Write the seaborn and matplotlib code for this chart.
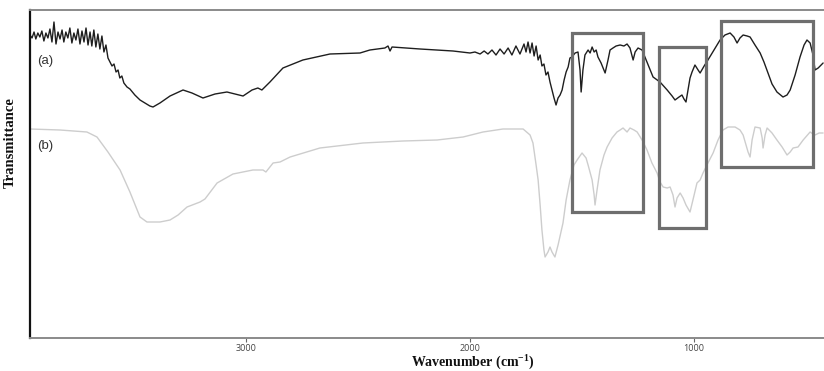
import matplotlib
matplotlib.use("Agg")
import matplotlib.pyplot as plt
import matplotlib.patches as mpatches
import seaborn as sns
import pandas as pd

# ---- data (wavenumber cm^-1, transmittance in arbitrary units) ----
wn_a = [3964, 3955, 3946, 3938, 3929, 3920, 3911, 3902, 3893, 3884, 3875, 3866, 3857, 3848, 3839,
        3830, 3821, 3813, 3804, 3795, 3786, 3777, 3768, 3759, 3750, 3741, 3732, 3723, 3714, 3705,
        3696, 3688, 3679, 3670, 3661, 3652, 3643, 3634, 3625, 3616, 3607, 3598, 3589, 3580, 3571,
        3563, 3554, 3545, 3531, 3518, 3496, 3473, 3451, 3429, 3415, 3384, 3339, 3281, 3241, 3192,
        3138, 3085, 3013, 2973, 2947, 2929, 2893, 2835, 2746, 2625, 2491, 2447, 2380, 2366, 2357,
        2348, 2223, 2076, 2000, 1978, 1955, 1937, 1920, 1902, 1884, 1866, 1848, 1830, 1813, 1795,
        1777, 1759, 1750, 1741, 1732, 1723, 1714, 1705, 1696, 1687, 1679, 1670, 1661, 1652, 1643,
        1634, 1625, 1616, 1607, 1598, 1589, 1580, 1571, 1562, 1554, 1545, 1531, 1518, 1509, 1504,
        1496, 1487, 1473, 1464, 1455, 1446, 1437, 1429, 1415, 1397, 1384, 1375, 1362, 1348, 1330,
        1313, 1299, 1286, 1272, 1263, 1250, 1232, 1205, 1183, 1152, 1120, 1098, 1085, 1067, 1054,
        1045, 1036, 1027, 1018, 1009, 996, 982, 973, 955, 938, 911, 884, 862, 839, 822,
        808, 795, 781, 763, 750, 728, 705, 688, 670, 652, 630, 603, 585, 571, 549,
        527, 509, 496, 482, 469, 460, 446, 424]
t_a = [303, 300, 306, 299, 305, 301, 307, 297, 305, 300, 309, 296, 316, 294, 306,
       299, 308, 296, 306, 300, 310, 295, 305, 298, 309, 294, 307, 296, 310, 293,
       306, 292, 308, 291, 304, 289, 302, 286, 293, 280, 276, 272, 274, 266, 268,
       260, 262, 255, 251, 249, 243, 238, 235, 232, 231, 235, 242, 248, 245, 240,
       244, 246, 242, 248, 250, 248, 256, 270, 278, 284, 285, 288, 290, 292, 287,
       291, 289, 287, 285, 286, 284, 287, 284, 288, 283, 289, 284, 290, 283, 292,
       284, 294, 286, 296, 285, 295, 282, 292, 278, 283, 272, 274, 263, 266, 256,
       248, 240, 233, 240, 243, 248, 258, 266, 271, 280, 281, 285, 286, 268, 246,
       268, 283, 288, 285, 291, 286, 288, 281, 275, 265, 278, 288, 290, 292, 293,
       292, 294, 290, 278, 286, 290, 288, 273, 261, 256, 248, 242, 238, 241, 243,
       239, 236, 248, 260, 266, 273, 268, 265, 272, 278, 288, 298, 303, 305, 301,
       295, 300, 303, 302, 301, 293, 285, 276, 265, 254, 246, 241, 243, 248, 263,
       281, 293, 298, 295, 283, 268, 270, 275]

wn_b = [3964, 3830, 3710, 3665, 3616, 3562, 3518, 3473, 3442, 3384, 3339, 3303, 3263, 3205, 3183,
        3129, 3058, 2969, 2924, 2911, 2879, 2848, 2803, 2670, 2478, 2299, 2147, 2031, 1942, 1853,
        1763, 1732, 1719, 1705, 1696, 1687, 1679, 1670, 1665, 1652, 1643, 1634, 1621, 1607, 1585,
        1571, 1554, 1536, 1522, 1500, 1482, 1473, 1455, 1446, 1442, 1433, 1420, 1402, 1388, 1366,
        1344, 1330, 1317, 1299, 1286, 1268, 1254, 1232, 1210, 1188, 1165, 1152, 1138, 1120, 1107,
        1094, 1085, 1076, 1062, 1049, 1036, 1018, 1005, 987, 973, 960, 938, 915, 893, 871,
        848, 817, 795, 781, 768, 759, 750, 741, 728, 705, 696, 692, 683, 674, 652,
        630, 607, 585, 571, 558, 536, 513, 482, 469, 460, 442, 424]
t_b = [209, 208, 206, 201, 186, 168, 146, 121, 116, 116, 118, 123, 131, 136, 139,
       155, 164, 168, 168, 166, 175, 176, 181, 190, 195, 197, 198, 201, 206, 209,
       209, 203, 195, 173, 158, 133, 108, 88, 81, 86, 91, 86, 81, 93, 115,
       138, 158, 173, 178, 185, 180, 173, 158, 143, 133, 148, 168, 183, 191, 200,
       206, 208, 210, 206, 210, 208, 206, 198, 188, 175, 165, 156, 151, 150, 151,
       143, 131, 140, 145, 140, 133, 126, 138, 155, 158, 165, 175, 185, 198, 208,
       211, 211, 208, 203, 193, 186, 181, 198, 211, 210, 200, 190, 203, 210, 205,
       198, 191, 183, 186, 190, 191, 198, 206, 204, 203, 205, 205]

labels = ["(a)", "(b)"]
# highlighted regions: (wavenumber high, wavenumber low, transmittance low, transmittance high)
box_wn_hi = [1545, 1156, 879]
box_wn_lo = [1228, 946, 469]
box_t_lo = [126, 110, 171]
box_t_hi = [305, 291, 317]
xticks = [3000, 2000, 1000]

df = pd.concat([
    pd.DataFrame({"wn": wn_a, "T": t_a, "s": "a"}),
    pd.DataFrame({"wn": wn_b, "T": t_b, "s": "b"}),
])

sns.set_theme(style="white")
plt.rcParams["mathtext.fontset"] = "custom"
plt.rcParams["mathtext.rm"] = "Liberation Serif"
plt.rcParams["mathtext.bf"] = "Liberation Serif:bold"

fig = plt.figure(figsize=(8.24, 3.71), dpi=100)
ax = fig.add_axes([30 / 824, 33 / 371, 794 / 824, 328 / 371])

sns.lineplot(data=df, x="wn", y="T", hue="s",
             palette={"a": "#1e1e1e", "b": "#cdcdcd"}, sort=False, estimator=None,
             linewidth=1.0, legend=False, ax=ax)

for x0, x1, y0, y1 in zip(box_wn_hi, box_wn_lo, box_t_lo, box_t_hi):
    ax.add_patch(mpatches.Rectangle((x1, y0), x0 - x1, y1 - y0, fill=False,
                                    edgecolor="#6e6e6e", linewidth=2.3, zorder=5))

ax.set_xlim(3964, 420)
ax.set_ylim(0, 328)
ax.set_xticks(xticks)
ax.set_xticklabels([str(v) for v in xticks], fontfamily="Open Sans", fontsize=6.5, color="#444444")
ax.set_yticks([])
ax.tick_params(axis="x", direction="out", length=3, width=0.8, color="#666666", pad=1.5, bottom=True)

ax.spines["right"].set_visible(False)
ax.spines["left"].set_color("#111111")
ax.spines["left"].set_linewidth(1.6)
ax.spines["top"].set_color("#8a8a8a")
ax.spines["top"].set_linewidth(1.4)
ax.spines["bottom"].set_color("#8a8a8a")
ax.spines["bottom"].set_linewidth(1.4)

ax.text(0.009, (338 - 61) / 328, labels[0], transform=ax.transAxes, fontfamily="Liberation Sans",
        fontsize=9.5, color="#333333", va="center", ha="left")
ax.text(0.009, (338 - 146) / 328, labels[1], transform=ax.transAxes, fontfamily="Liberation Sans",
        fontsize=9.5, color="#333333", va="center", ha="left")

ax.set_ylabel("Transmittance", fontfamily="Liberation Serif", fontweight="bold", fontsize=10.5,
              color="#111111")
ax.yaxis.set_label_coords((17 - 30) / 794, (338 - 143) / 328)
ax.set_xlabel(r"Wavenumber (cm$^{\mathbf{-1}}$)", fontfamily="Liberation Serif", fontweight="bold",
              fontsize=10, color="#111111")
ax.xaxis.set_label_coords((473 - 30) / 794, -(361.5 - 338) / 328)
ax.xaxis.label.set_va("center")

fig.savefig("out.png", dpi=100)
